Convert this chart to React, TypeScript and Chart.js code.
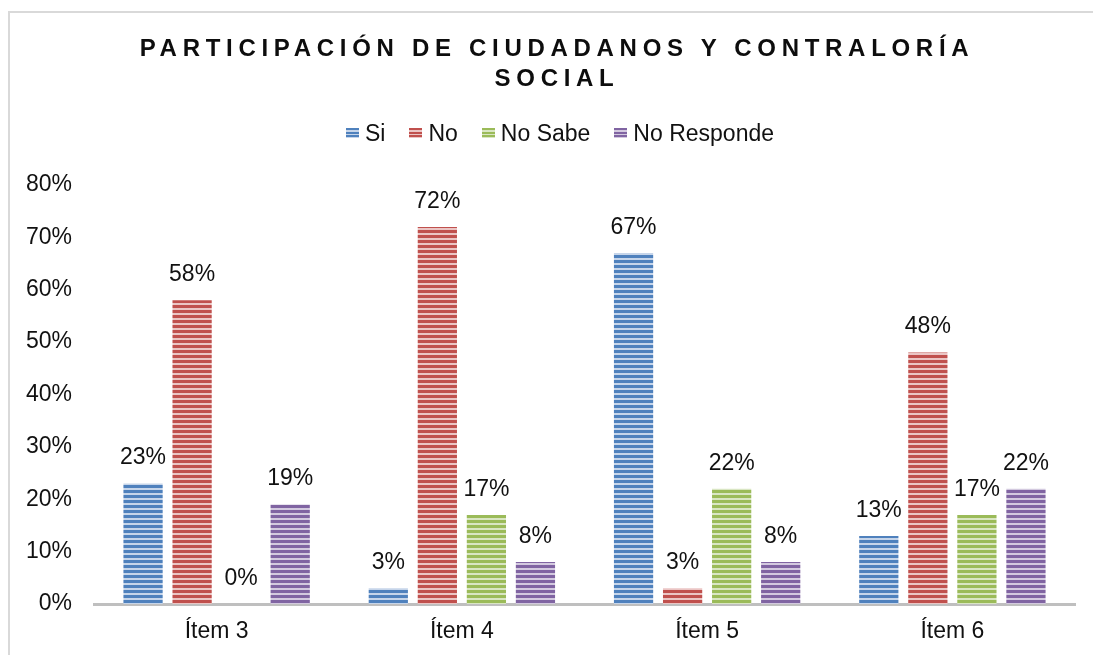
import React, { useEffect, useRef } from "react";
import { Chart, registerables } from "chart.js";

Chart.register(...registerables);

const categories = ["Ítem 3", "Ítem 4", "Ítem 5", "Ítem 6"];
const seriesNames = ["Si", "No", "No Sabe", "No Responde"];
const siValues = [23, 3, 67, 13];
const noValues = [58, 72, 3, 48];
const noSabeValues = [0, 17, 22, 17];
const noRespondeValues = [19, 8, 8, 22];
const darkColors = ["#4f81bd", "#c0504d", "#9bbb59", "#8064a2"];
const lightColors = ["#c6d5ea", "#ebc5c4", "#d9e6c3", "#d3c9df"];
const titleLines = ["PARTICIPACIÓN DE CIUDADANOS Y CONTRALORÍA", "SOCIAL"];

const FONT = "'Liberation Sans', Arial, sans-serif";

function makePattern(dark: string, light: string): CanvasPattern | string {
  const c = document.createElement("canvas");
  c.width = 8;
  c.height = 5;
  const ctx = c.getContext("2d");
  if (!ctx) return dark;
  ctx.fillStyle = light;
  ctx.fillRect(0, 0, 8, 5);
  ctx.fillStyle = dark;
  ctx.fillRect(0, 0, 8, 3);
  const p = ctx.createPattern(c, "repeat");
  return p || dark;
}

const dataLabelPlugin = {
  id: "dataLabels",
  afterDatasetsDraw(chart: any) {
    const ctx = chart.ctx;
    ctx.save();
    ctx.font = `23px ${FONT}`;
    ctx.fillStyle = "#111111";
    ctx.textAlign = "center";
    ctx.textBaseline = "bottom";
    chart.data.datasets.forEach((ds: any, i: number) => {
      const meta = chart.getDatasetMeta(i);
      meta.data.forEach((bar: any, j: number) => {
        ctx.fillText(`${ds.data[j]}%`, bar.x, bar.y - 14);
      });
    });
    ctx.restore();
  },
};

export default function App() {
  const canvasRef = useRef<HTMLCanvasElement | null>(null);

  useEffect(() => {
    if (!canvasRef.current) return;
    const all = [siValues, noValues, noSabeValues, noRespondeValues];
    const chart = new Chart(canvasRef.current, {
      type: "bar",
      data: {
        labels: categories,
        datasets: all.map((vals, i) => ({
          label: seriesNames[i],
          data: vals,
          backgroundColor: makePattern(darkColors[i], lightColors[i]) as any,
          borderWidth: 0,
          categoryPercentage: 0.8,
          barPercentage: 0.8,
        })),
      },
      options: {
        animation: false,
        responsive: false,
        maintainAspectRatio: false,
        layout: { padding: { top: 185, left: 0, right: 18, bottom: 0 } },
        plugins: {
          legend: { display: false },
          title: { display: false },
          tooltip: { enabled: false },
        },
        scales: {
          x: {
            grid: { display: false, drawTicks: false },
            border: { display: true, color: "#bfbfbf", width: 3 },
            ticks: {
              color: "#111111",
              font: { family: FONT, size: 23 },
              padding: 14,
            },
            afterFit: (scale: any) => {
              scale.height = 51;
            },
          },
          y: {
            min: 0,
            max: 80,
            grid: { display: false, drawTicks: false },
            border: { display: false },
            ticks: {
              stepSize: 10,
              color: "#111111",
              font: { family: FONT, size: 23 },
              padding: 22,
              callback: (v: any) => `${v}%`,
            },
            afterFit: (scale: any) => {
              scale.width = 94;
            },
          },
        },
      },
      plugins: [dataLabelPlugin],
    });
    return () => chart.destroy();
  }, []);

  const swatch = (i: number): React.CSSProperties => ({
    display: "inline-block",
    width: 13,
    height: 10,
    marginRight: 6,
    background: `repeating-linear-gradient(to bottom, ${darkColors[i]} 0px, ${darkColors[i]} 2px, ${lightColors[i]} 2px, ${lightColors[i]} 3.5px)`,
  });

  return (
    <div
      style={{
        position: "fixed",
        left: 0,
        top: 0,
        width: 1093,
        height: 655,
        background: "#ffffff",
        overflow: "hidden",
        fontFamily: FONT,
      }}
    >
      <div
        style={{
          position: "absolute",
          left: 8,
          top: 11,
          width: 1200,
          height: 700,
          border: "2px solid #d9d9d9",
          boxSizing: "border-box",
        }}
      />
      <canvas
        ref={canvasRef}
        width={1093}
        height={655}
        style={{ position: "absolute", left: 0, top: 0, width: 1093, height: 655 }}
      />
      <div
        style={{
          position: "absolute",
          left: 0,
          top: 33,
          width: 1114,
          textAlign: "center",
          fontWeight: "bold",
          fontSize: 24,
          letterSpacing: 5.7,
          lineHeight: "30px",
          color: "#0d0d0d",
        }}
      >
        {titleLines.map((t) => (
          <div key={t}>{t}</div>
        ))}
      </div>
      <div
        style={{
          position: "absolute",
          left: 0,
          top: 119,
          width: 1120,
          display: "flex",
          justifyContent: "center",
          alignItems: "center",
          fontSize: 23,
          color: "#111111",
          lineHeight: "28px",
        }}
      >
        {seriesNames.map((n, i) => (
          <div
            key={n}
            style={{ display: "flex", alignItems: "center", marginRight: i < 3 ? 24 : 0 }}
          >
            <span style={swatch(i)} />
            <span>{n}</span>
          </div>
        ))}
      </div>
    </div>
  );
}
